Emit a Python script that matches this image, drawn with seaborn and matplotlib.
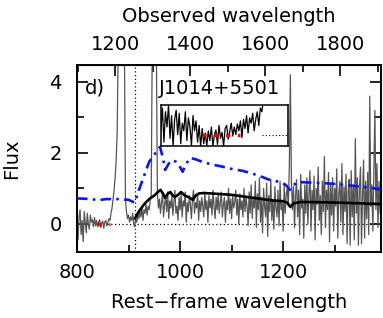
import numpy as np
import matplotlib
matplotlib.use("Agg")
import matplotlib.pyplot as plt
import seaborn as sns

# redshift used for the observed-wavelength axis
z = 0.373

# observed spectrum (rest frame), 2 A sampling from 800 A
spec_start, spec_step = 800, 2
spec_flux = [
    0.50, -0.45, 0.20, 0.40, -0.30, 0.10, -0.50, 0.35, 0.05, -0.25,
    0.30, 0.00, -0.15, 0.25, 0.05, 0.12, -0.08, 0.18, -0.05, 0.10,
    -0.08, 0.05, 0.12, -0.10, 0.02, 0.08, -0.12, 0.06, 0.10, -0.06,
    0.05, 0.15, 0.10, 0.30, 0.45, 0.70, 0.95, 1.30, 1.80, 2.60,
    5.00, 5.00, 5.00, 5.00, 5.00, 5.00, 5.00, 0.70, 0.35, 0.15,
    0.25, 0.05, 0.20, 0.10, 0.30, 0.00, -0.08, 0.15, 0.05, 0.25,
    0.15, 0.35, 0.20, 0.45, 0.10, 0.40, 0.30, 0.55, 0.25, 0.50,
    0.40, 0.65, 0.80, 5.00, 5.00, 5.00, 5.00, 5.00, 0.90, 0.45,
    0.70, 0.30, 0.60, 0.85, 0.20, 0.55, 0.75, 0.35, 0.90, 0.15,
    0.65, 0.45, 0.80, 0.25, 0.60, 0.95, 0.30, 0.50, 0.10, 0.75,
    0.40, 0.85, 0.20, 0.65, 0.50, 0.90, 0.05, 0.60, 0.35, 0.80,
    0.55, 0.15, 0.70, 0.95, 0.30, 0.60, 0.45, 0.85, 0.10, 0.65,
    0.35, 0.75, 0.50, 0.20, 0.90, 0.40, 0.65, 0.05, 0.80, 0.45,
    0.70, 0.25, 0.95, 0.50, 0.15, 0.75, 0.40, 0.85, 0.30, 0.60,
    0.90, 0.20, 0.55, 0.75, 0.05, 0.65, 0.40, 1.00, 0.30, 0.70,
    0.15, 0.80, 0.45, 0.60, 0.95, 0.25, 0.70, 0.00, 0.85, 0.40,
    0.65, 0.20, 1.00, 0.35, 0.75, 0.50, -0.05, 0.90, 0.30, 1.10,
    0.15, 0.70, 0.45, 1.20, -0.10, 0.85, 0.40, 1.30, 0.05, 0.75,
    -0.25, 1.00, 0.50, 0.20, 1.15, -0.35, 0.80, 0.35, 1.25, 0.10,
    0.70, -0.15, 1.05, 0.45, 0.20, 0.95, -0.05, 1.20, 0.40, 0.60,
    -0.20, 1.10, 0.30, 0.85, 1.00, 0.50, 1.60, 4.20, 1.20, 0.40,
    1.05, -0.10, 0.80, 1.25, 0.20, 0.95, -0.30, 1.40, 0.45, 0.70,
    -0.40, 1.10, 0.30, 1.30, 0.00, 0.85, 1.50, -0.20, 0.95, 0.40,
    1.35, -0.45, 1.00, 0.55, 1.60, 0.10, 0.80, -0.30, 1.20, 0.35,
    1.90, -0.10, 0.95, 0.40, 1.45, -0.50, 1.10, 0.25, 1.30, -0.20,
    1.00, 0.50, 1.55, -0.40, 0.85, 1.20, 0.05, 1.70, -0.30, 1.05,
    0.35, 1.40, -0.55, 0.90, 1.25, -0.60, 1.50, 0.20, 1.10, -0.45,
    2.40, 0.30, 1.30, -0.60, 1.00, 1.60, -0.55, 0.75, 1.80, -0.40,
    1.20, 0.15, 1.45, -0.30, 3.60, 0.50, 1.10, -0.20, 1.50, 3.20,
    0.40, 1.70, -0.10, 1.20, 0.30,
]
spec_wave = spec_start + spec_step * np.arange(len(spec_flux))

# unattenuated template (blue dash-dot)
model_wave = [800, 830, 840, 855, 880, 900, 912, 920, 930, 940, 950, 955, 961,
              967, 971, 978, 985, 992, 1000, 1005, 1012, 1020, 1030, 1045,
              1060, 1080, 1100, 1120, 1140, 1160, 1170, 1180, 1195, 1205,
              1213, 1220, 1230, 1260, 1290, 1320, 1350, 1370, 1390]
model_flux = [0.72, 0.70, 0.66, 0.70, 0.70, 0.68, 0.60, 0.95, 1.35, 1.75,
              1.95, 2.05, 2.17, 1.85, 1.52, 1.70, 1.80, 1.75, 1.60, 1.47,
              1.70, 1.86, 1.82, 1.74, 1.68, 1.62, 1.55, 1.50, 1.42, 1.32,
              1.26, 1.22, 1.18, 1.10, 0.96, 1.10, 1.18, 1.16, 1.14, 1.10,
              1.05, 1.02, 0.96]

# best fit (black)
fit_wave = [912, 920, 930, 940, 950, 957, 962, 967, 971, 976, 981, 986, 990,
            996, 1002, 1009, 1016, 1025, 1030, 1037, 1045, 1060, 1080, 1100,
            1120, 1140, 1160, 1180, 1200, 1208, 1214, 1220, 1235, 1280, 1330,
            1390]
fit_flux = [0.15, 0.35, 0.55, 0.70, 0.80, 0.90, 0.96, 0.85, 0.73, 0.85,
            0.90, 0.80, 0.76, 0.82, 0.90, 0.80, 0.76, 0.68, 0.80, 0.86,
            0.87, 0.86, 0.84, 0.82, 0.78, 0.74, 0.70, 0.66, 0.64, 0.60,
            0.48, 0.58, 0.62, 0.61, 0.59, 0.56]

# Lyman continuum window
lyc_window = [839, 864]

# inset: zoom on the LyC region, 1 A sampling from 812 A
inset_start = 812
inset_flux = [
    0.05, 0.35, -0.10, 0.30, 0.10, 0.39, -0.05, 0.25, -0.15, 0.20,
    0.32, 0.00, 0.28, -0.12, 0.15, 0.05, 0.30, -0.08, 0.22, 0.10,
    -0.15, 0.25, 0.05, 0.18, -0.10, 0.12, -0.15, 0.08, -0.12, 0.02,
    -0.15, 0.05, -0.08, 0.10, -0.15, 0.00, 0.06, -0.13, 0.12, -0.05,
    0.03, -0.15, 0.08, 0.12, -0.06, 0.04, 0.15, -0.02, 0.10, 0.00,
    0.14, 0.05, 0.18, -0.04, 0.20, 0.08, 0.25, 0.02, 0.22, 0.15,
    0.28, 0.05, 0.20, 0.30, 0.12, 0.35, 0.30, 0.45, 0.55,
]
inset_wave = inset_start + np.arange(len(inset_flux))

sns.set_style("ticks")
plt.rcParams['font.family'] = ['DejaVu Sans']
plt.rcParams['font.size'] = 14
for key in ['text.color', 'axes.labelcolor', 'xtick.color', 'ytick.color',
            'axes.edgecolor']:
    plt.rcParams[key] = 'black'

fig = plt.figure(figsize=(3.83, 3.18), dpi=100)
ax = fig.add_axes([0.201, 0.2075, 0.794, 0.5885])

sns.lineplot(x=spec_wave, y=spec_flux, ax=ax, color='#555555', lw=0.9,
             zorder=2)
sns.lineplot(x=fit_wave, y=fit_flux, ax=ax, color='black', lw=1.9, zorder=3)
sns.lineplot(x=model_wave, y=model_flux, ax=ax, color='#0a14ff', lw=1.9,
             linestyle=(0, (4, 2, 1, 2)), zorder=4)
sns.lineplot(x=lyc_window, y=[0, 0], ax=ax, color='red', lw=2.5,
             linestyle=(0, (1.2, 2.2)), zorder=5)
ax.axhline(0, color='black', lw=0.9, ls=(0, (1, 2)), zorder=1)
ax.axvline(912, color='black', lw=0.9, ls=(0, (1, 2)), zorder=1)

ax.set_xlim(800, 1390)
ax.set_ylim(-0.79, 4.48)
ax.set_xticks([800, 1000, 1200])
ax.set_xticks([900, 1100, 1300], minor=True)
ax.set_yticks([0, 2, 4])
ax.set_yticks([1, 3], minor=True)
ax.tick_params(which='both', direction='in', top=False, right=True, width=1.2,
               labelsize=14, color='black', labelcolor='black')
ax.tick_params(which='major', length=8)
ax.tick_params(which='minor', length=5)
ax.tick_params(axis='x', pad=8)
ax.tick_params(axis='y', pad=11)
for s in ax.spines.values():
    s.set_linewidth(1.4)
    s.set_color('black')

ax.set_xlabel('Rest\u2212frame wavelength', labelpad=8)
ax.set_ylabel('Flux', labelpad=20)

top = ax.secondary_xaxis('top', functions=(lambda x: x * (1 + z),
                                           lambda x: x / (1 + z)))
top.set_xticks([1200, 1400, 1600, 1800])
top.set_xticks([1100, 1300, 1500, 1700, 1900], minor=True)
top.tick_params(which='both', direction='in', width=1.2, pad=8, labelsize=14,
                color='black', labelcolor='black')
top.tick_params(which='major', length=8)
top.tick_params(which='minor', length=5)
top.set_xlabel('Observed wavelength', labelpad=9)

ax.text(0.027, 0.875, 'd)', transform=ax.transAxes, va='center', ha='left')
ax.text(0.27, 0.875, 'J1014+5501', transform=ax.transAxes, va='center',
        ha='left')

# inset
ins = fig.add_axes([0.420, 0.541, 0.3316, 0.129])
ins.set_facecolor('white')
sns.lineplot(x=inset_wave, y=inset_flux, ax=ins, color='black', lw=0.9)
sns.lineplot(x=lyc_window, y=[0, 0], ax=ins, color='red', lw=2.5,
             linestyle=(0, (1.2, 2.2)))
sns.lineplot(x=[878, 895], y=[0, 0], ax=ins, color='black', lw=0.8,
             linestyle=(0, (1, 2)))
ins.set_xlim(812, 895)
ins.set_ylim(-0.15, 0.39)
ins.set_xticks([])
ins.set_yticks([])
for s in ins.spines.values():
    s.set_linewidth(1.1)
    s.set_color('black')

fig.savefig('out.png', dpi=100)
